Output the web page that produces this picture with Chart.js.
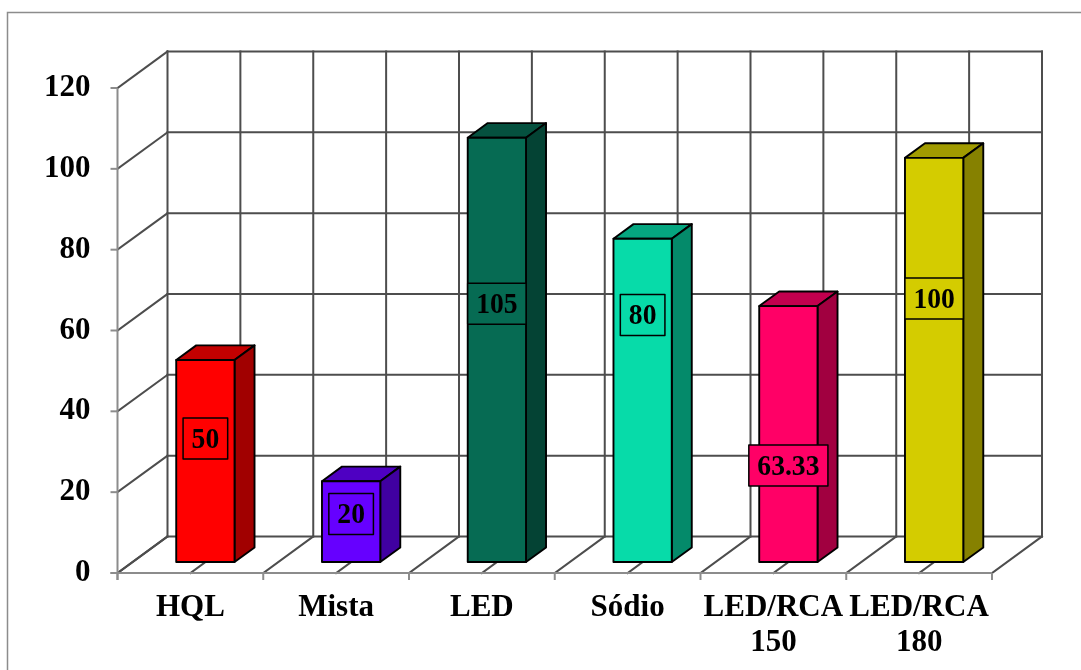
<!DOCTYPE html>
<html>
<head>
<meta charset="utf-8">
<script src="https://cdn.jsdelivr.net/npm/chart.js@4/dist/chart.umd.min.js"></script>
<style>
  html, body { margin: 0; padding: 0; background: #ffffff; }
  #wrap { width: 1081px; height: 670px; }
</style>
</head>
<body>
<div id="wrap"><canvas id="chart" width="1081" height="670"></canvas></div>
<script>
// Categories (multi-line labels as arrays) and the bar values
const categories = ['HQL', 'Mista', 'LED', 'Sódio', ['LED/RCA', '150'], ['LED/RCA', '180']];
const values = [50, 20, 105, 80, 63.33, 100];
const barColors = ['#FF0000', '#6600FF', '#066B53', '#07DBA9', '#FF0066', '#D4CC00'];
const yMin = 0;
const yMax = 120;
const yStep = 20;

const SERIF = '"Liberation Serif", "Times New Roman", serif';

// Darken a hex colour by a factor (used for the top and side faces of the boxes)
function shade(hex, k) {
  const n = parseInt(hex.slice(1), 16);
  const r = Math.round(((n >> 16) & 255) * k);
  const g = Math.round(((n >> 8) & 255) * k);
  const b = Math.round((n & 255) * k);
  return `rgb(${r},${g},${b})`;
}

// Draws the 3D walls, floor and box-shaped bars around the regular bar layout
const box3d = {
  id: 'box3d',
  beforeDatasetsDraw(chart, args, opts) {
    const ctx = chart.ctx;
    const xs = chart.scales.x;
    const ys = chart.scales.y;
    const { dx, dy } = opts.depth;
    const left = xs.getPixelForValue(-0.5);
    const right = xs.getPixelForValue(categories.length - 0.5);
    const bottom = ys.getPixelForValue(yMin);
    const top = ys.getPixelForValue(yMax);

    ctx.save();
    // outer frame
    ctx.strokeStyle = '#8c8c8c';
    ctx.lineWidth = 1.5;
    ctx.strokeRect(7.5, 12.5, 1200, 800);

    ctx.lineCap = 'square';
    ctx.strokeStyle = opts.gridColor;
    ctx.lineWidth = 2;
    const line = (x1, y1, x2, y2) => {
      ctx.beginPath(); ctx.moveTo(x1, y1); ctx.lineTo(x2, y2); ctx.stroke();
    };

    // back wall horizontals and side wall diagonals
    for (let v = yMin; v <= yMax; v += yStep) {
      const y = ys.getPixelForValue(v);
      line(left + dx, y + dy, right + dx, y + dy);
      line(left, y, left + dx, y + dy);
    }
    // back wall verticals and floor diagonals at every half category
    for (let i = -0.5; i <= categories.length - 0.5 + 1e-6; i += 0.5) {
      const x = xs.getPixelForValue(i);
      line(x + dx, top + dy, x + dx, bottom + dy);
      line(x, bottom, x + dx, bottom + dy);
    }

    // front axes with tick marks
    ctx.strokeStyle = opts.axisColor;
    ctx.lineCap = 'butt';
    line(left, top, left, bottom + 7);
    line(left - 7, bottom, right, bottom);
    for (let v = yMin; v <= yMax; v += yStep) {
      const y = ys.getPixelForValue(v);
      line(left - 7, y, left, y);
    }
    for (let i = -0.5; i <= categories.length - 0.5 + 1e-6; i += 1) {
      const x = xs.getPixelForValue(i);
      line(x, bottom, x, bottom + 7);
    }
    ctx.restore();
  },
  afterDatasetsDraw(chart, args, opts) {
    const ctx = chart.ctx;
    const ys = chart.scales.y;
    const { dx, dy } = opts.depth;
    const fx1 = opts.front * dx, fy1 = opts.front * dy;
    const fx2 = opts.back * dx, fy2 = opts.back * dy;
    const meta = chart.getDatasetMeta(0);

    ctx.save();
    ctx.lineJoin = 'round';
    ctx.lineWidth = 1.9;
    ctx.strokeStyle = '#000000';
    meta.data.forEach((el, i) => {
      const p = el.getProps(['x', 'y', 'base', 'width'], true);
      const xl = p.x - p.width / 2, xr = p.x + p.width / 2;
      const yt = p.y, yb = p.base;
      const col = barColors[i];

      // top face
      ctx.beginPath();
      ctx.moveTo(xl + fx1, yt + fy1);
      ctx.lineTo(xr + fx1, yt + fy1);
      ctx.lineTo(xr + fx2, yt + fy2);
      ctx.lineTo(xl + fx2, yt + fy2);
      ctx.closePath();
      ctx.fillStyle = shade(col, 0.76);
      ctx.fill(); ctx.stroke();

      // side face
      ctx.beginPath();
      ctx.moveTo(xr + fx1, yt + fy1);
      ctx.lineTo(xr + fx2, yt + fy2);
      ctx.lineTo(xr + fx2, yb + fy2);
      ctx.lineTo(xr + fx1, yb + fy1);
      ctx.closePath();
      ctx.fillStyle = shade(col, 0.63);
      ctx.fill(); ctx.stroke();

      // front face
      ctx.beginPath();
      ctx.rect(xl + fx1, yt + fy1, xr - xl, yb - yt);
      ctx.fillStyle = col;
      ctx.fill(); ctx.stroke();
    });

    // value labels in framed boxes (serif face, slightly condensed)
    const sx = 0.92;
    ctx.font = `bold 30px ${SERIF}`;
    ctx.textAlign = 'center';
    ctx.textBaseline = 'middle';
    meta.data.forEach((el, i) => {
      const text = String(values[i]);
      const cx = el.x + fx1;
      const cy = ys.getPixelForValue(opts.labelAnchor[i]) + fy1;
      const w = ctx.measureText(text).width * sx + 17;
      const h = 41;
      ctx.fillStyle = barColors[i];
      ctx.fillRect(cx - w / 2, cy - h / 2, w, h);
      ctx.lineWidth = 1.5;
      ctx.strokeStyle = '#000000';
      ctx.strokeRect(cx - w / 2, cy - h / 2, w, h);
      ctx.save();
      ctx.translate(cx, cy + 1.5);
      ctx.scale(sx, 1);
      ctx.fillStyle = '#000000';
      ctx.fillText(text, 0, 0);
      ctx.restore();
    });
    ctx.restore();
  }
};

new Chart(document.getElementById('chart'), {
  type: 'bar',
  data: {
    labels: categories,
    datasets: [{
      data: values,
      backgroundColor: 'rgba(0,0,0,0)',
      borderWidth: 0,
      barPercentage: 0.4,
      categoryPercentage: 1.0
    }]
  },
  options: {
    responsive: false,
    devicePixelRatio: 1,
    animation: false,
    events: [],
    layout: { padding: { left: 0, top: 88, right: 89, bottom: 0 } },
    plugins: {
      legend: { display: false },
      tooltip: { enabled: false },
      box3d: {
        depth: { dx: 50, dy: -36.5 },
        front: 0.3,
        back: 0.7,
        gridColor: '#4d4d4d',
        axisColor: '#8c8c8c',
        labelAnchor: [30.6, 11.9, 63.9, 61.1, 23.9, 65.2]
      }
    },
    scales: {
      x: {
        grid: { display: false, drawTicks: false },
        border: { display: false },
        ticks: {
          color: '#000000',
          font: { family: SERIF, size: 31, weight: 'bold', lineHeight: 1.13 },
          maxRotation: 0,
          autoSkip: false,
          padding: 17
        },
        afterFit(scale) { scale.height = 97; }
      },
      y: {
        min: yMin,
        max: yMax,
        grid: { display: false, drawTicks: false },
        border: { display: false },
        ticks: {
          stepSize: yStep,
          color: '#000000',
          font: { family: SERIF, size: 31, weight: 'bold' },
          padding: 27
        },
        afterFit(scale) { scale.width = 117.5; }
      }
    }
  },
  plugins: [box3d]
});
</script>
</body>
</html>
